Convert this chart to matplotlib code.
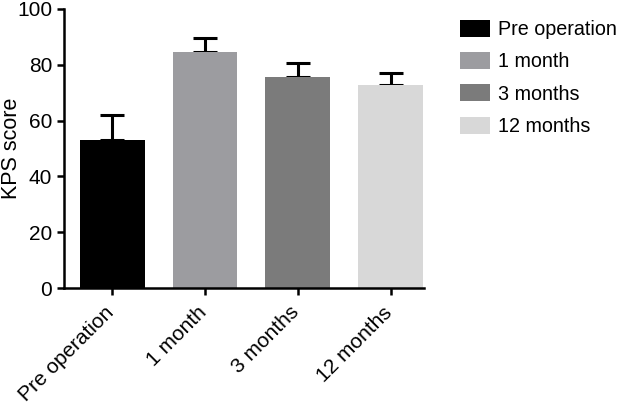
import matplotlib

matplotlib.use("Agg")

import matplotlib.pyplot as plt
from matplotlib.transforms import ScaledTranslation

plt.rcParams["font.family"] = ["Liberation Sans", "DejaVu Sans"]

categories = ["Pre operation", "1 month", "3 months", "12 months"]
means = [53.0, 84.6, 75.6, 72.8]
errors = [9.0, 5.0, 5.0, 4.4]
colors = ["#000000", "#9c9ca0", "#7b7b7b", "#d8d8d8"]

fig = plt.figure(figsize=(6.28, 4.08), dpi=100)
ax = fig.add_axes([0.102, 0.294, 0.573, 0.684])

positions = list(range(len(categories)))
bars = ax.bar(positions, means, width=0.7, color=colors, label=categories, zorder=2)
ax.errorbar(positions, means, yerr=[[0] * len(errors), errors], fmt="none",
            ecolor="black", elinewidth=2.2, capsize=8.5, capthick=2.2, zorder=1)

ax.set_ylim(0, 100)
ax.set_xlim(-0.52, 3.36)
ax.set_yticks([0, 20, 40, 60, 80, 100])
ax.set_xticks(positions)
ax.tick_params(axis="both", labelsize=15, width=1.8, length=5, direction="out")
ax.set_xticklabels(categories, rotation=45, ha="right", rotation_mode="anchor")
# nudge the rotated labels so their top corner sits under the tick
shift = ScaledTranslation(-0.08, -0.03, fig.dpi_scale_trans)
for lbl in ax.get_xticklabels():
    lbl.set_transform(lbl.get_transform() + shift)

ax.set_ylabel("KPS score", fontsize=15.5)
ax.yaxis.set_label_coords(-0.117, 0.5)
for side in ["top", "right"]:
    ax.spines[side].set_visible(False)
for side in ["left", "bottom"]:
    ax.spines[side].set_linewidth(1.8)

fig.legend(bars, categories, loc="upper left", bbox_to_anchor=(0.704, 0.995),
           frameon=False, fontsize=14.2, handlelength=1.55, handleheight=0.95,
           labelspacing=0.66, handletextpad=0.4)

plt.savefig("out.png", dpi=100)
